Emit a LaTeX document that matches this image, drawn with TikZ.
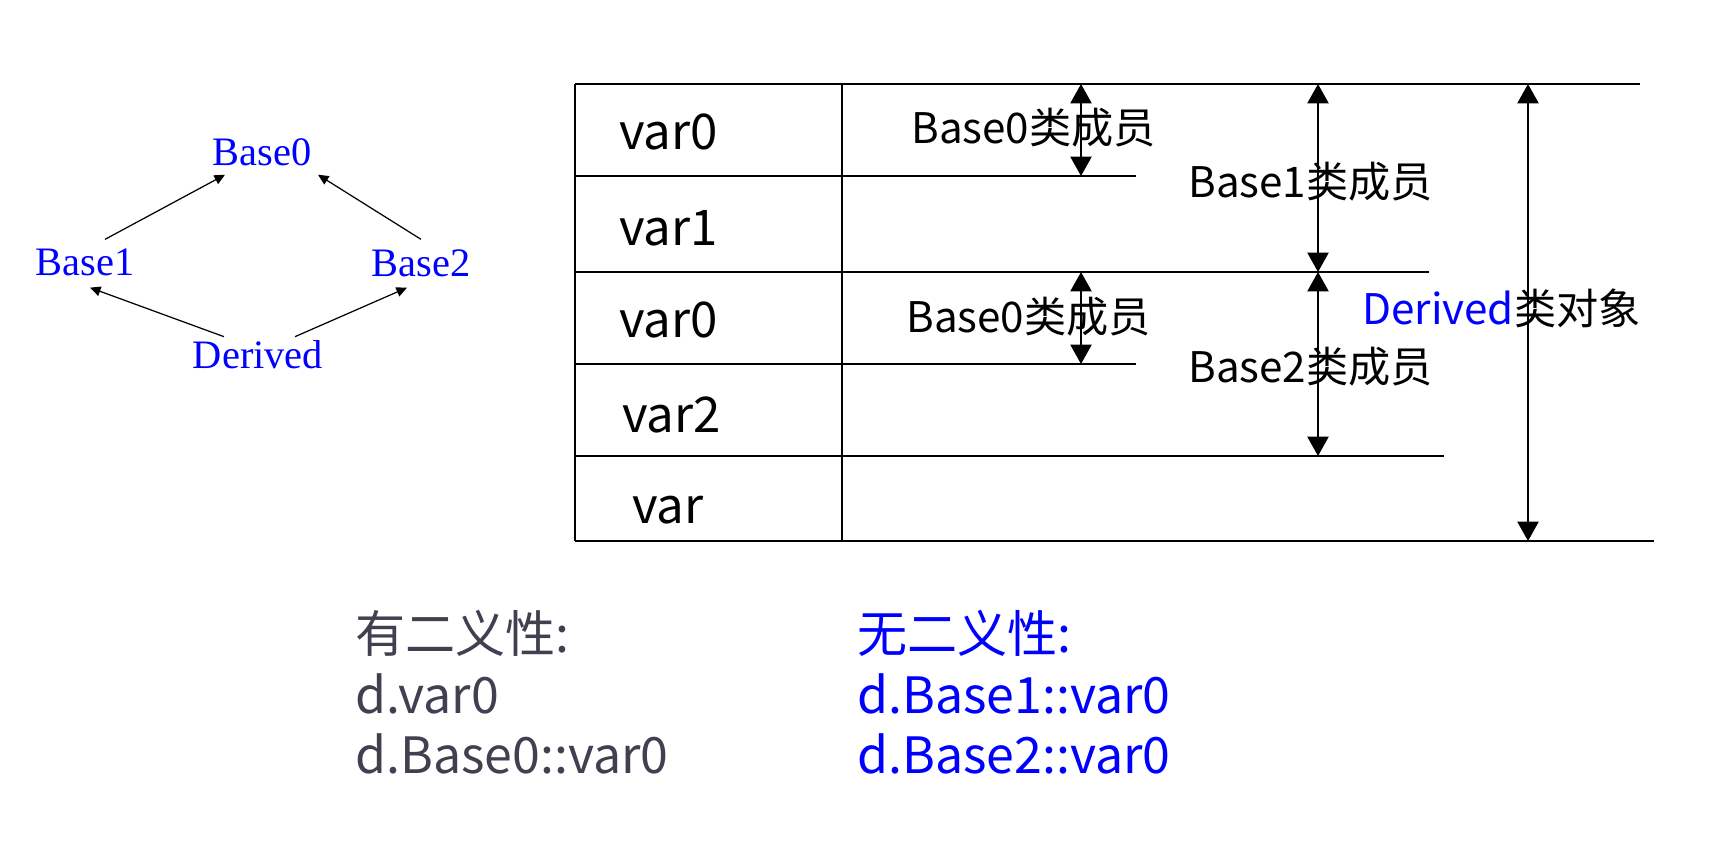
\documentclass[tikz,border=0pt]{standalone}
\usepackage{fontspec}
\newfontfamily\cjk{Noto Sans CJK SC}
\newfontfamily\timesx{Liberation Serif}
\usetikzlibrary{arrows.meta,calc}
\definecolor{notegray}{HTML}{404050}
\tikzset{
  cls/.style={text=blue, font=\timesx\fontsize{23}{27}\selectfont, inner sep=1pt},
  inh/.style={-{Triangle[length=6pt,width=5.5pt]}, line width=0.7pt},
  rule/.style={line width=1.1pt},
  cell/.style={anchor=base west, inner sep=0pt, font=\cjk\fontsize{28}{32}\selectfont},
  lbl/.style={anchor=west, inner sep=0pt, font=\cjk\fontsize{24}{28}\selectfont},
  dim/.style={{Triangle[length=11pt,width=12pt]}-{Triangle[length=11pt,width=12pt]}, line width=1.1pt},
  note/.style={anchor=base west, inner sep=0pt, font=\cjk\fontsize{28.5}{33}\selectfont}
}
\begin{document}
\begin{tikzpicture}[x=0.02cm,y=-0.02cm]
  \useasboundingbox (0,0) rectangle (1723,855);
  % inheritance
  \node[cls] (base0) at (262,152) {Base0};
  \node[cls] (base1) at (85,262) {Base1};
  \node[cls] (base2) at (421,263) {Base2};
  \node[cls] (derived) at (258,355) {Derived};
  \draw[inh] ($(base1.north)+(20,-7)$) -- ($(base0.south)+(-37,7)$);
  \draw[inh] ($(base2.north)+(0,-8)$) -- ($(base0.south)+(56,7)$);
  \draw[inh] ($(derived.north)+(-34,-2)$) -- ($(base1.south)+(5,10)$);
  \draw[inh] ($(derived.north)+(37,-2)$) -- ($(base2.south)+(-14,9)$);
  % object layout
  \draw[rule] (575,84) -- (575,541) (842,84) -- (842,541);
  \foreach \y/\x in {84/1640,176/1136,272/1429,364/1136,456/1444,541/1654}
    \draw[rule] (575,\y) -- (\x,\y);
  \foreach \n/\t/\x/\y in {v0/var0/619/150, v1/var1/619/245, v2/var0/619/337, v3/var2/622/432, v4/var/632/523}
    \node[cell] (\n) at (\x,\y) {\t};
  \coordinate (s0a) at (1081,84);   \coordinate (s0b) at (1081,176);
  \coordinate (s1a) at (1081,272);  \coordinate (s1b) at (1081,364);
  \coordinate (b1a) at (1318,84);   \coordinate (b1b) at (1318,272);
  \coordinate (b2a) at (1318,272);  \coordinate (b2b) at (1318,456);
  \coordinate (da) at (1528,84);    \coordinate (db) at (1528,541);
  \node[lbl] (m0) at (911,128) {Base0类成员};
  \node[lbl] (m1) at (906,317) {Base0类成员};
  \node[lbl] (m2) at (1188,182) {Base1类成员};
  \node[lbl] (m3) at (1188,367) {Base2类成员};
  \node[lbl] (obj) at (1362,308) {{\color{blue}Derived}类对象};
  \draw[dim] (s0a) -- (s0b);
  \draw[dim] (s1a) -- (s1b);
  \draw[dim] (b1a) -- (b1b);
  \draw[dim] (b2a) -- (b2b);
  \draw[dim] (da) -- (db);
  % access
  \node[note, text=notegray] (amb) at (355,652) {有二义性:};
  \node[note, text=notegray] (amb1) at (355,713) {d.var0};
  \node[note, text=notegray] (amb2) at (355,773) {d.Base0::var0};
  \node[note, text=blue] (uamb) at (857,652) {无二义性:};
  \node[note, text=blue] (uamb1) at (857,713) {d.Base1::var0};
  \node[note, text=blue] (uamb2) at (857,773) {d.Base2::var0};
\end{tikzpicture}
\end{document}
